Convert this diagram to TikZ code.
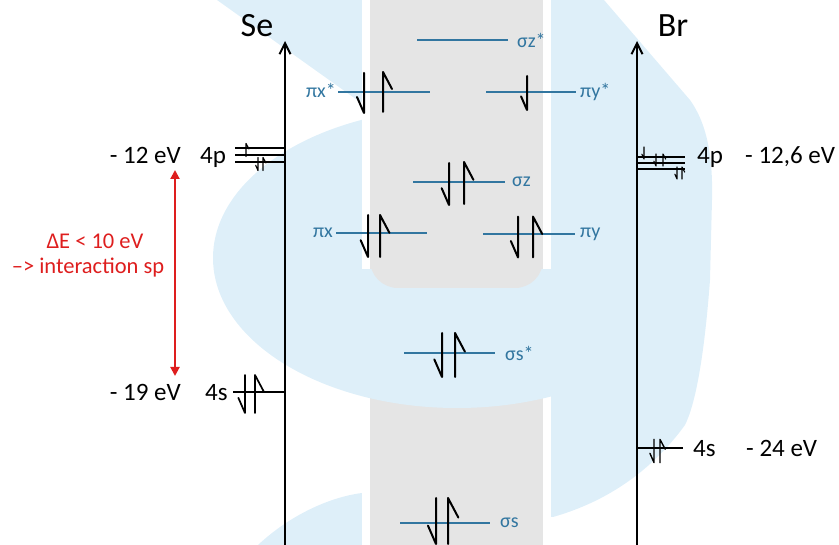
\documentclass[tikz,border=0pt]{standalone}
\usepackage{fontspec}
\setmainfont{Carlito}
\usetikzlibrary{arrows.meta}
\definecolor{mob}{RGB}{50,118,160}
\definecolor{wm}{RGB}{222,239,249}
\definecolor{bandgray}{RGB}{229,229,229}
\definecolor{dered}{RGB}{222,30,30}
\tikzset{
  axisline/.style={line width=2.2pt,-{Straight Barb[length=11pt,width=11pt,line width=2pt]}},
  atomlvl/.style={line width=2pt},
  molvl/.style={line width=2.4pt,draw=mob},
  molab/.style={text=mob,font=\fontsize{20}{24}\selectfont,inner sep=0pt},
  elab/.style={font=\fontsize{25}{30}\selectfont,inner sep=0pt},
  atomlab/.style={font=\fontsize{34}{40}\selectfont,inner sep=0pt,anchor=base},
  redlab/.style={text=dered,font=\fontsize{22.5}{27}\selectfont,inner sep=0pt,anchor=base},
  pics/eup/.style={code={\draw[line join=round,line cap=round] (0,20) -- (0,-20) -- (9,-3);}},
  pics/edown/.style={code={\draw[line join=round,line cap=round] (0,-20) -- (0,20) -- (-7,4);}},
  ebig/.style={line width=2pt},
  emid/.style={line width=1.7pt},
  etiny/.style={line width=1.1pt},
}
\begin{document}
\begin{tikzpicture}[x=1pt,y=-1pt]
\useasboundingbox (0,0) rectangle (839,545);
% ---- watermark background ----
\fill[wm] (457,258) ellipse [x radius=244, y radius=150];
\fill[wm] (217,0) -- (370,0) -- (370,100) -- (360,102) -- cycle;
\fill[wm] (543,0) -- (604,0) -- (690,100) .. controls (708,125) and (713,160) .. (712,200)
   -- (710,280) .. controls (704,360) and (695,405) .. (685,425)
   .. controls (645,480) and (595,505) .. (553,517) -- (543,517) -- cycle;
\fill[wm] (258,545) .. controls (290,515) and (330,497) .. (362,493) -- (362,545) -- cycle;
\fill[white] (362,0) rectangle (370,545);
\fill[white] (543,0) rectangle (551,545);
\fill[bandgray] (370,0) rectangle (543,545);
\begin{scope}
  \clip (362,270) rectangle (551,545);
  \fill[wm] (457,258) ellipse [x radius=244, y radius=150];
  \fill[bandgray,rounded corners=28pt] (370,-10) -- (370,288) -- (543,288) -- (543,-10) -- cycle;
\end{scope}
% ---- axes ----
\coordinate (seB) at (285,545); \coordinate (seT) at (285,41);
\coordinate (brB) at (637,545); \coordinate (brT) at (637,41);
\draw[axisline] (seB) -- (seT);
\draw[axisline] (brB) -- (brT);
\node[atomlab] (se) at (257,37) {Se};
\node[atomlab] (br) at (673,37) {Br};
% ---- Se levels ----
\draw[atomlvl] (235,148) -- (285,148);
\draw[atomlvl] (235,155) -- (285,155);
\draw[atomlvl] (235,162) -- (285,162);
\pic[etiny,scale=0.33] at (246,150) {eup};
\pic[etiny,scale=0.33] at (258,164) {edown};
\pic[etiny,scale=0.33] at (263,164) {eup};
\draw[atomlvl] (233,392) -- (285,392);
\pic[emid,scale=0.95] at (245,394) {edown};
\pic[emid,scale=0.95] at (255,394) {eup};
\node[elab,anchor=base east] (se12) at (181,164) {- 12 eV};
\node[elab,anchor=base west] (se4p) at (200,164) {4p};
\node[elab,anchor=base east] (se19) at (181,401) {- 19 eV};
\node[elab,anchor=base west] (se4s) at (205,401) {4s};
% ---- Br levels ----
\draw[atomlvl] (637,157) -- (685,157);
\draw[atomlvl] (637,163) -- (685,163);
\draw[atomlvl] (637,169) -- (685,169);
\pic[etiny,scale=0.3] at (644,153) {edown};
\pic[etiny,scale=0.3] at (656,160) {edown};
\pic[etiny,scale=0.3] at (663,160) {eup};
\pic[etiny,scale=0.3] at (677,173) {edown};
\pic[etiny,scale=0.3] at (682,173) {eup};
\draw[atomlvl] (637,448) -- (683,448);
\pic[etiny,line width=1.4pt,scale=0.58] at (654,451) {edown};
\pic[etiny,line width=1.4pt,scale=0.58] at (660,451) {eup};
\node[elab,anchor=base west] (br4p) at (697,164) {4p};
\node[elab,anchor=base west] (br126) at (745,164) {- 12,6 eV};
\node[elab,anchor=base west] (br4s) at (693,457) {4s};
\node[elab,anchor=base west] (br24) at (746,457) {- 24 eV};
% ---- MO levels ----
\draw[molvl] (417,40) -- (508,40);
\node[molab,anchor=west] (szs) at (517,40) {σz*};
\draw[molvl] (338,92) -- (430,92);
\node[molab,anchor=east] (pxs) at (336,90) {πx*};
\pic[ebig] at (364,93) {edown};
\pic[ebig] at (383,92) {eup};
\draw[molvl] (486,92) -- (576,92);
\node[molab,anchor=west] (pys) at (580,92) {πy*};
\pic[ebig,scale=0.85] at (527,93) {edown};
\draw[molvl] (413,182) -- (505,182);
\node[molab,anchor=west] (sz) at (512,182) {σz};
\pic[ebig,scale=1.05] at (449,184) {edown};
\pic[ebig,scale=1.05] at (464,183) {eup};
\draw[molvl] (336,233) -- (427,233);
\node[molab,anchor=east] (px) at (333,233) {πx};
\pic[ebig,scale=1.05] at (368,236) {edown};
\pic[ebig,scale=1.05] at (380,236) {eup};
\draw[molvl] (483,234) -- (575,234);
\node[molab,anchor=west] (py) at (580,234) {πy};
\pic[ebig,scale=1.02] at (518,237) {edown};
\pic[ebig,scale=1.02] at (533,237) {eup};
\draw[molvl] (404,353) -- (495,353);
\node[molab,anchor=west] (sss) at (505,353) {σs*};
\pic[ebig,scale=1.1] at (442,355) {edown};
\pic[ebig,scale=1.1] at (455,355) {eup};
\draw[molvl] (400,523) -- (490,523);
\node[molab,anchor=west] (ss) at (500,523) {σs};
\pic[ebig,scale=1.15] at (436,521) {edown};
\pic[ebig,scale=1.15] at (448,521) {eup};
% ---- Delta E ----
\coordinate (dEa) at (175,170); \coordinate (dEb) at (175,376);
\draw[dered,line width=2pt,{Triangle[length=9pt,width=9pt]}-{Triangle[length=9pt,width=9pt]}] (dEa) -- (dEb);
\node[redlab] (dE) at (95,249) {ΔE < 10 eV};
\node[redlab] (inter) at (88,274) {\textendash> interaction sp};
\end{tikzpicture}
\end{document}
